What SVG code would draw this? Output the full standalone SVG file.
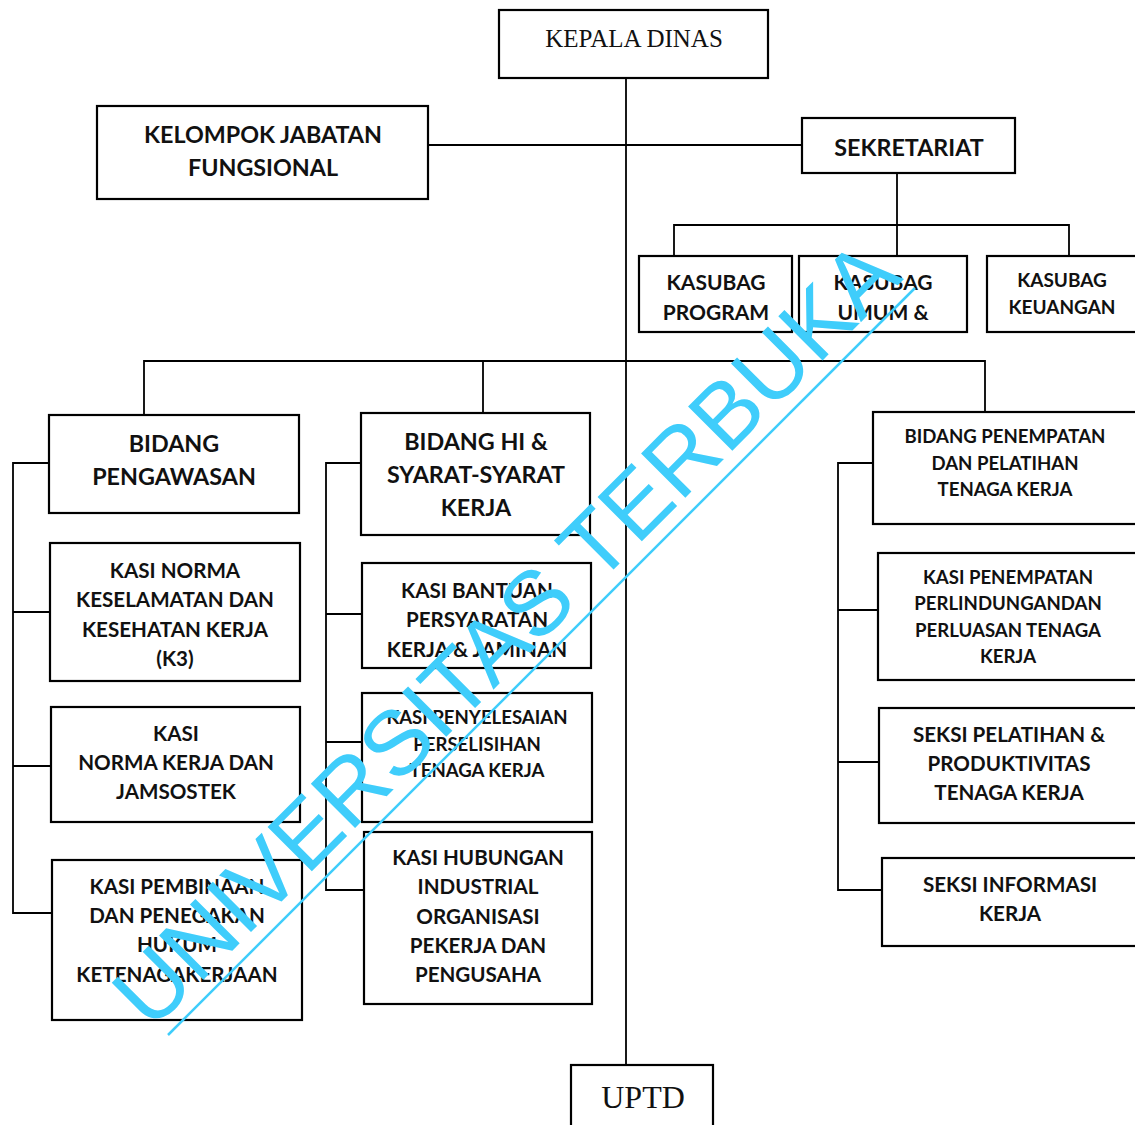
<svg xmlns="http://www.w3.org/2000/svg" width="1135" height="1125" viewBox="0 0 1135 1125">
<style>
.box{fill:#fff;stroke:#000;stroke-width:2.2}
.ln{fill:none;stroke:#000;stroke-width:1.8}
.t{font-family:Lato,"Noto Sans","Liberation Sans",sans-serif;font-weight:bold;font-size:23.3px;text-anchor:middle;fill:#111}
.k{font-size:21px}
.s{font-size:20.6px}
.xs{font-size:18.6px}
.serif{font-family:"Liberation Serif","Times New Roman",serif;font-weight:normal;font-size:25px}
.wm{font-family:"Liberation Sans",Arial,sans-serif;font-size:91px;fill:#3fcdfb}
</style>
<rect width="1135" height="1125" fill="#fff"/>
<g id="connectors">
<path class="ln" d="M626,78 V1066"/>
<path class="ln" d="M428,145 H802"/>
<path class="ln" d="M897,173 V256 M674,256 V225 H1069 V256"/>
<path class="ln" d="M144,415 V361 H985 V412 M483,361 V413"/>
<path class="ln" d="M49,463 H13 V913 H52 M13,612 H50 M13,766 H51"/>
<path class="ln" d="M361,463 H326 V890 H364 M326,614 H362 M326,742 H362"/>
<path class="ln" d="M873,463 H838 V890 H882 M838,610 H878 M838,762 H879"/>
</g>
<g id="kepala-dinas"><rect class="box" x="499" y="10" width="269" height="68"/><text class="t serif" x="634" y="47">KEPALA DINAS</text></g>
<g id="kelompok"><rect class="box" x="97" y="106" width="331" height="93"/><text class="t" x="263" y="143">KELOMPOK JABATAN</text><text class="t" x="263" y="176">FUNGSIONAL</text></g>
<g id="sekretariat"><rect class="box" x="802" y="118" width="213" height="55"/><text class="t" x="909" y="156">SEKRETARIAT</text></g>
<g id="kasubag-program"><rect class="box" x="639" y="256" width="153" height="76"/><text class="t k" x="716" y="290">KASUBAG</text><text class="t k" x="716" y="320">PROGRAM</text></g>
<g id="kasubag-umum"><rect class="box" x="799" y="256" width="168" height="76"/><text class="t k" x="883" y="290">KASUBAG</text><text class="t k" x="883" y="320">UMUM &amp;</text></g>
<g id="kasubag-keuangan"><rect class="box" x="987" y="256" width="160" height="76"/><text class="t k" style="font-size:19px" x="1062" y="287">KASUBAG</text><text class="t k" style="font-size:19px" x="1062" y="314">KEUANGAN</text></g>
<g id="bidang-pengawasan"><rect class="box" x="49" y="415" width="250" height="98"/><text class="t" x="174" y="452">BIDANG</text><text class="t" x="174" y="485">PENGAWASAN</text></g>
<g id="kasi-k3"><rect class="box" x="50" y="543" width="250" height="138"/><text class="t s" x="175" y="578">KASI NORMA</text><text class="t s" x="175" y="607">KESELAMATAN DAN</text><text class="t s" x="175" y="637">KESEHATAN KERJA</text><text class="t s" x="175" y="666">(K3)</text></g>
<g id="kasi-jamsostek"><rect class="box" x="51" y="707" width="249" height="115"/><text class="t s" x="176" y="741">KASI</text><text class="t s" x="176" y="770">NORMA KERJA DAN</text><text class="t s" x="176" y="799">JAMSOSTEK</text></g>
<g id="kasi-pembinaan"><rect class="box" x="52" y="860" width="250" height="160"/><text class="t s" x="177" y="894">KASI PEMBINAAN</text><text class="t s" x="177" y="923">DAN PENEGAKAN</text><text class="t s" x="177" y="952">HUKUM</text><text class="t s" x="177" y="982">KETENAGAKERJAAN</text></g>
<g id="bidang-hi"><rect class="box" x="361" y="413" width="229" height="122"/><text class="t" x="476" y="450">BIDANG HI &amp;</text><text class="t" x="476" y="483">SYARAT-SYARAT</text><text class="t" x="476" y="516">KERJA</text></g>
<g id="kasi-bantuan"><rect class="box" x="362" y="563" width="229" height="105"/><text class="t s" x="477" y="598">KASI BANTUAN</text><text class="t s" x="477" y="627">PERSYARATAN</text><text class="t s" x="477" y="657">KERJA &amp; JAMINAN</text></g>
<g id="kasi-penyelesaian"><rect class="box" x="362" y="693" width="230" height="129"/><text class="t xs" x="477" y="724">KASI PENYELESAIAN</text><text class="t xs" x="477" y="751">PERSELISIHAN</text><text class="t xs" x="477" y="777">TENAGA KERJA</text></g>
<g id="kasi-hubungan"><rect class="box" x="364" y="832" width="228" height="172"/><text class="t s" x="478" y="865">KASI HUBUNGAN</text><text class="t s" x="478" y="894">INDUSTRIAL</text><text class="t s" x="478" y="924">ORGANISASI</text><text class="t s" x="478" y="953">PEKERJA DAN</text><text class="t s" x="478" y="982">PENGUSAHA</text></g>
<g id="bidang-penempatan"><rect class="box" x="873" y="412" width="275" height="112"/><text class="t xs" x="1005" y="443">BIDANG PENEMPATAN</text><text class="t xs" x="1005" y="470">DAN PELATIHAN</text><text class="t xs" x="1005" y="496">TENAGA KERJA</text></g>
<g id="kasi-penempatan"><rect class="box" x="878" y="553" width="270" height="127"/><text class="t xs" x="1008" y="584">KASI PENEMPATAN</text><text class="t xs" x="1008" y="610">PERLINDUNGANDAN</text><text class="t xs" x="1008" y="637">PERLUASAN TENAGA</text><text class="t xs" x="1008" y="663">KERJA</text></g>
<g id="seksi-pelatihan"><rect class="box" x="879" y="708" width="269" height="115"/><text class="t s" x="1009" y="742">SEKSI PELATIHAN &amp;</text><text class="t s" x="1009" y="771">PRODUKTIVITAS</text><text class="t s" x="1009" y="800">TENAGA KERJA</text></g>
<g id="seksi-informasi"><rect class="box" x="882" y="858" width="266" height="88"/><text class="t s" x="1010" y="892">SEKSI INFORMASI</text><text class="t s" x="1010" y="921">KERJA</text></g>
<g id="uptd"><rect class="box" x="571" y="1065" width="142" height="70"/><text class="t serif" x="643" y="1108" style="font-size:32px">UPTD</text></g>
<g id="watermark">
<text class="wm" transform="translate(151,1032) rotate(-45)" textLength="1065" lengthAdjust="spacingAndGlyphs">UNIVERSITAS TERBUKA</text>
<path d="M168,1035 L915,288" stroke="#3fcdfb" stroke-width="2.5"/>
</g>
</svg>
